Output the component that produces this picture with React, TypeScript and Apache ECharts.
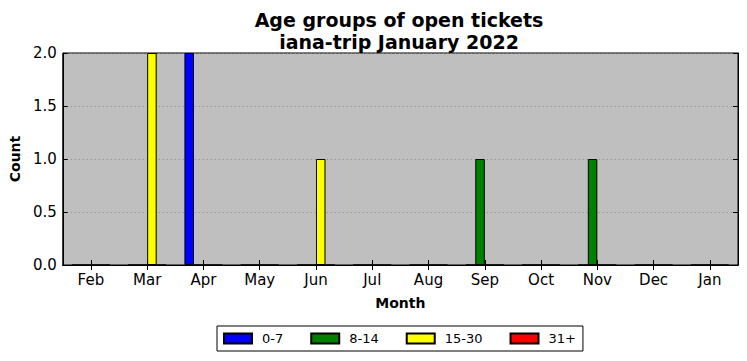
import React, { useEffect, useRef } from "react";
import * as echarts from "echarts";

const months = ["Feb", "Mar", "Apr", "May", "Jun", "Jul", "Aug", "Sep", "Oct", "Nov", "Dec", "Jan"];
const seriesNames = ["0-7", "8-14", "15-30", "31+"];
const seriesColors = ["#0000ff", "#008000", "#ffff00", "#ff0000"];
const age0to7 = [0, 0, 2, 0, 0, 0, 0, 0, 0, 0, 0, 0];
const age8to14 = [0, 0, 0, 0, 0, 0, 0, 1, 0, 1, 0, 0];
const age15to30 = [0, 2, 0, 0, 1, 0, 0, 0, 0, 0, 0, 0];
const age31plus = [0, 0, 0, 0, 0, 0, 0, 0, 0, 0, 0, 0];
const seriesData = [age0to7, age8to14, age15to30, age31plus];

const FONT = "DejaVu Sans";

export default function App() {
  const ref = useRef<HTMLDivElement>(null);
  useEffect(() => {
    if (!ref.current) return;
    const chart = echarts.init(ref.current, undefined, { renderer: "svg" });
    const tickCommon = { show: true, inside: true, length: 5, lineStyle: { color: "#000", width: 1 } };
    chart.setOption({
      animation: false,
      backgroundColor: "#ffffff",
      title: {
        text: "Age groups of open tickets\niana-trip January 2022",
        left: 394,
        top: 4,
        textAlign: "center",
        textStyle: { fontFamily: FONT, fontWeight: "bold", fontSize: 19, lineHeight: 22, color: "#000" },
      },
      legend: {
        data: seriesNames,
        icon: "rect",
        left: 217,
        top: 326,
        itemWidth: 28,
        itemHeight: 10,
        itemGap: 27,
        padding: [6, 7, 6, 6],
        borderColor: "#000",
        borderWidth: 1,
        textStyle: { fontFamily: FONT, fontSize: 13, color: "#000", padding: [0, 0, 0, 5] },
      },
      grid: { left: 62, right: 9, top: 53, bottom: 96, show: true, backgroundColor: "#bfbfbf", borderColor: "#000", borderWidth: 1 },
      xAxis: [
        {
          type: "category",
          data: months,
          position: "bottom",
          name: "Month",
          nameLocation: "middle",
          nameGap: 31,
          nameTextStyle: { fontFamily: FONT, fontWeight: "bold", fontSize: 14, color: "#000" },
          axisLine: { show: true, lineStyle: { color: "#000", width: 1 } },
          axisTick: { ...tickCommon, alignWithLabel: true },
          axisLabel: { fontFamily: FONT, fontSize: 15, color: "#000", margin: 7 },
          splitLine: { show: false },
        },
        {
          type: "category",
          data: months,
          position: "top",
          axisLine: { show: true, lineStyle: { color: "#000", width: 1 } },
          axisTick: { ...tickCommon, alignWithLabel: true },
          axisLabel: { show: false },
          splitLine: { show: false },
        },
      ],
      yAxis: [
        {
          type: "value",
          min: 0,
          max: 2,
          interval: 0.5,
          position: "left",
          name: "Count",
          nameLocation: "middle",
          nameGap: 39,
          nameTextStyle: { fontFamily: FONT, fontWeight: "bold", fontSize: 14, color: "#000" },
          axisLine: { show: true, lineStyle: { color: "#000", width: 1 } },
          axisTick: tickCommon,
          axisLabel: { fontFamily: FONT, fontSize: 15, color: "#000", margin: 6, formatter: (v: number) => v.toFixed(1) },
          splitLine: { show: true, lineStyle: { color: "#888", type: [1, 3], width: 1 } },
        },
        {
          type: "value",
          min: 0,
          max: 2,
          interval: 0.5,
          position: "right",
          axisLine: { show: true, lineStyle: { color: "#000", width: 1 } },
          axisTick: tickCommon,
          axisLabel: { show: false },
          splitLine: { show: false },
        },
      ],
      series: seriesNames.map((name, i) => ({
        name,
        type: "bar",
        xAxisIndex: 0,
        yAxisIndex: 0,
        data: seriesData[i],
        barWidth: 9.5,
        barGap: "0%",
        itemStyle: { color: seriesColors[i], borderColor: "#000", borderWidth: 1 },
      })),
    });
    return () => chart.dispose();
  }, []);
  return <div ref={ref} style={{ width: 747, height: 361, position: "absolute", left: 0, top: 0 }} />;
}
